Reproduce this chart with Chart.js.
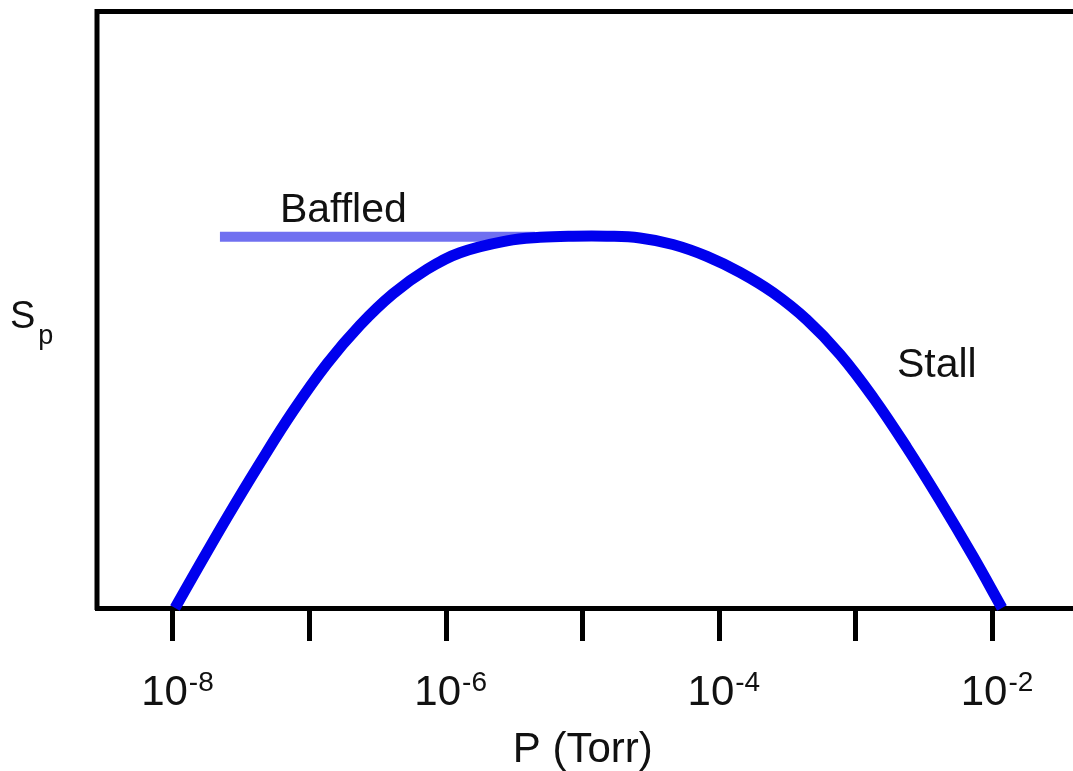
<!DOCTYPE html>
<html>
<head>
<meta charset="utf-8">
<script src="https://cdn.jsdelivr.net/npm/chart.js@4/dist/chart.umd.min.js"></script>
<style>
  html, body { margin: 0; padding: 0; background: #ffffff; }
  #wrap { width: 1073px; height: 771px; }
</style>
</head>
<body>
<div id="wrap"><canvas id="c" width="1073" height="771"></canvas></div>
<script>
// ---- data ----
// pressure given as log10(P / Torr)
const curveLogP = [-7.985, -7.854, -7.605, -7.363, -7.122, -6.873, -6.631, -6.389, -6.141, -5.899, -5.555, -5.313, -5.072, -4.823, -4.581, -4.340, -4.091, -3.849, -3.608, -3.359, -3.117, -2.876, -2.627, -2.385, -2.143, -1.931];
const curveSp    = [0, 5.3, 15.2, 24.4, 33.1, 41.1, 47.6, 52.9, 57.0, 59.8, 61.8, 62.4, 62.6, 62.6, 62.3, 61.2, 59.2, 56.5, 53.1, 48.5, 42.7, 35.5, 27.0, 18.1, 8.7, 0];
const baffledLogP = [-7.656, -5.35];
const baffledSp   = [62.5, 62.5];
const tickExponents = [-8, -7, -6, -5, -4, -3, -2];
const labelExponents = [-8, -6, -4, -2];
const xTitle = 'P (Torr)';
const yTitleMain = 'S';
const yTitleSub = 'p';
const annBaffled = { text: 'Baffled', logP: -7.217, sp: 65.0 };
const annStall = { text: 'Stall', logP: -2.70, sp: 38.9 };

const FONT = '"Liberation Sans", Arial, Helvetica, sans-serif';

const textPlugin = {
  id: 'texts',
  beforeDatasetsDraw(chart) {
    const ctx = chart.ctx, a = chart.chartArea;
    ctx.save();
    ctx.strokeStyle = '#000';
    ctx.lineWidth = 5;
    ctx.lineCap = 'butt';
    ctx.beginPath();
    ctx.moveTo(a.left, a.bottom + 2);
    ctx.lineTo(a.left, a.top - 2.5);
    ctx.lineTo(a.right, a.top - 2.5);
    ctx.stroke();
    ctx.restore();
  },
  afterDraw(chart) {
    const ctx = chart.ctx, x = chart.scales.x, y = chart.scales.y, a = chart.chartArea;
    ctx.save();
    ctx.fillStyle = '#111';
    ctx.textBaseline = 'alphabetic';
    // tick labels 10^n
    labelExponents.forEach(e => {
      const px = x.getPixelForValue(Math.pow(10, e));
      ctx.font = '42px ' + FONT;
      const w1 = ctx.measureText('10').width;
      ctx.font = '28px ' + FONT;
      const sup = String(e);
      const w2 = ctx.measureText(sup).width;
      const left = px + 4 - (w1 + w2) / 2;
      ctx.font = '42px ' + FONT;
      ctx.textAlign = 'left';
      ctx.fillText('10', left, a.bottom + 97);
      ctx.font = '28px ' + FONT;
      ctx.fillText(sup, left + w1 + 1, a.bottom + 83);
    });
    // x title
    ctx.font = '42px ' + FONT;
    ctx.textAlign = 'center';
    ctx.fillText(xTitle, x.getPixelForValue(1e-5), a.bottom + 154);
    // y title S_p
    ctx.textAlign = 'left';
    ctx.font = '38px ' + FONT;
    ctx.fillText(yTitleMain, 10, 328);
    const wS = ctx.measureText(yTitleMain).width;
    ctx.font = '27px ' + FONT;
    ctx.fillText(yTitleSub, 10 + wS + 3, 344);
    // annotations
    ctx.font = '41px ' + FONT;
    ctx.fillText(annBaffled.text, x.getPixelForValue(Math.pow(10, annBaffled.logP)), y.getPixelForValue(annBaffled.sp));
    ctx.fillText(annStall.text, x.getPixelForValue(Math.pow(10, annStall.logP)), y.getPixelForValue(annStall.sp));
    ctx.restore();
  }
};

new Chart(document.getElementById('c'), {
  type: 'line',
  data: {
    datasets: [
      {
        label: 'Sp',
        data: curveLogP.map((e, i) => ({ x: Math.pow(10, e), y: curveSp[i] })),
        borderColor: 'rgb(0,0,238)',
        borderWidth: 11,
        borderCapStyle: 'butt',
        borderJoinStyle: 'round',
        pointRadius: 0,
        tension: 0.4,
        fill: false,
        clip: false,
        order: 0
      },
      {
        label: 'Baffled',
        data: baffledLogP.map((e, i) => ({ x: Math.pow(10, e), y: baffledSp[i] })),
        borderColor: 'rgb(112,112,240)',
        borderWidth: 10,
        borderCapStyle: 'butt',
        pointRadius: 0,
        fill: false,
        clip: false,
        order: 1
      }
    ]
  },
  options: {
    responsive: false,
    animation: false,
    devicePixelRatio: 1,
    layout: { padding: { left: 97, top: 14, right: 0, bottom: 0 } },
    plugins: { legend: { display: false }, tooltip: { enabled: false } },
    scales: {
      x: {
        type: 'logarithmic',
        min: Math.pow(10, -8.556),
        max: Math.pow(10, -1.411),
        afterBuildTicks: s => { s.ticks = tickExponents.map(e => ({ value: Math.pow(10, e) })); },
        afterFit: s => { s.height = 163; },
        ticks: { display: false },
        grid: { display: true, drawOnChartArea: false, drawTicks: true, tickLength: 33, tickWidth: 5, tickColor: '#000' },
        border: { display: true, color: '#000', width: 5 },
        title: { display: false }
      },
      y: {
        type: 'linear',
        min: 0,
        max: 100,
        display: false
      }
    }
  },
  plugins: [textPlugin]
});
</script>
</body>
</html>
